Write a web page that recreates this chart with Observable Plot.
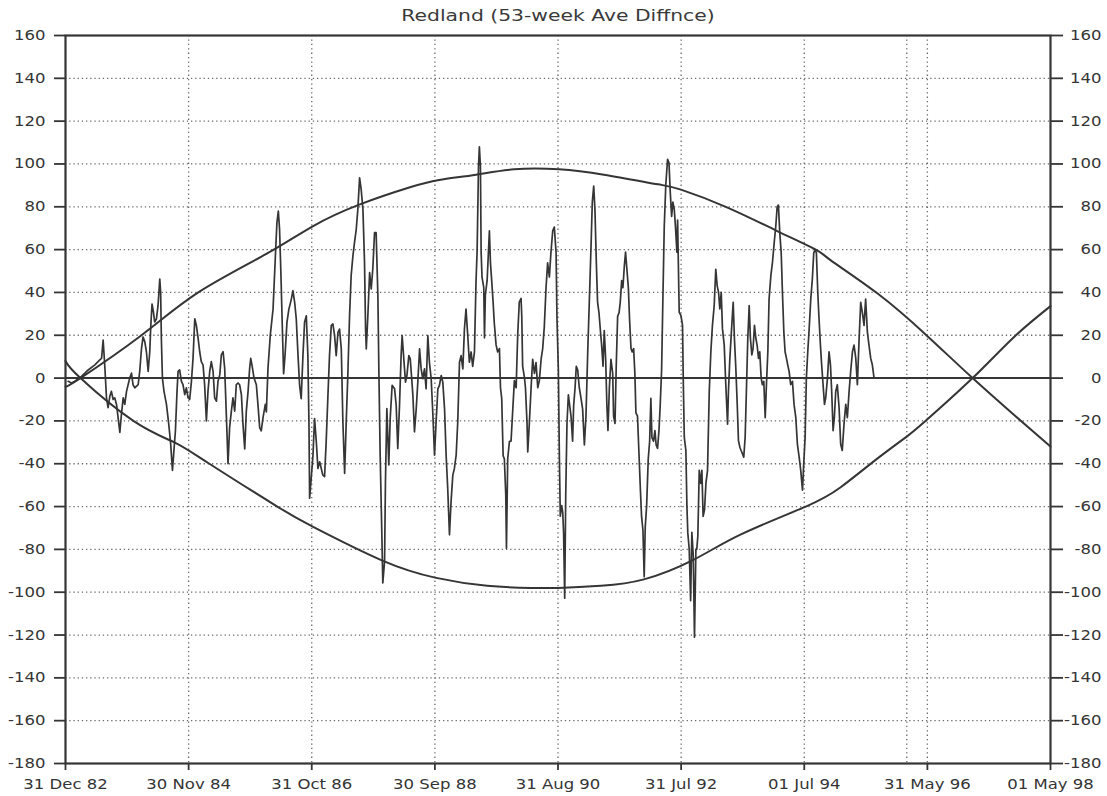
<!DOCTYPE html>
<html>
<head>
<meta charset="utf-8">
<script src="https://cdn.jsdelivr.net/npm/d3@7"></script>
<script src="https://cdn.jsdelivr.net/npm/@observablehq/plot@0.6"></script>
<style>
  body { margin: 0; background: #fff; }
  #title { position: relative; height: 26px; font-family: "DejaVu Sans", sans-serif; font-size: 16px; color: #3a3a3a; }
  #title span { position: absolute; left: 557.5px; top: 6px; white-space: nowrap; transform: translateX(-50%) scaleX(1.27); }
  #chart svg { display: block; }
</style>
</head>
<body>
<div id="title"><span>Redland (53-week Ave Diffnce)</span></div>
<div id="chart"></div>
<script>
// Weekly 53-week average difference: [days after 31 Dec 82, value]
const diffSeries = [
  [15,-1.5],[34,-2.3],[53,-1.5],[91,0.8],[129,3.8],[167,6.2],[195,8.5],[205,9.2],[214,17.7],[223,6.2],
  [233,-9.2],[242,-13.8],[252,-8.5],[261,-6.2],[271,-10],[280,-9.2],[290,-12.3],[299,-18.5],[309,-25.4],[318,-16.9],
  [328,-9.2],[337,-12.3],[347,-6.2],[356,-3.1],[365,0],[375,2.3],[384,-3.1],[394,-4.6],[413,-3.1],[422,3.1],
  [432,13.8],[441,19.2],[451,16.9],[460,12.3],[470,3.1],[479,12.3],[485,24.6],[492,34.6],[500,30.8],[507,26.2],
  [517,27.7],[526,33.8],[536,46.2],[541,40],[545,18.5],[551,0],[560,-6.2],[574,-12.3],[587,-21.5],[598,-30.8],
  [608,-43.1],[615,-35.4],[625,-24.6],[634,-6.2],[640,3.1],[649,3.8],[659,-1.5],[668,-3.1],[678,-7.7],[687,-4.6],
  [697,-9.2],[706,-10],[716,-1.5],[725,9.2],[735,27.7],[744,24.6],[754,18.5],[763,12.3],[772,7.7],[782,6.2],
  [791,-3.1],[801,-20],[810,-6.2],[820,3.1],[829,7.7],[839,3.1],[848,-9.2],[858,-10.8],[867,-1.5],[877,1.5],
  [886,10.8],[896,12.3],[905,4.6],[915,-18.5],[924,-40],[933,-23.1],[943,-15.4],[952,-9.2],[962,-15.4],[971,-3.1],
  [981,-2.3],[990,-3.1],[1000,-7.7],[1009,-21.5],[1019,-33.1],[1028,-15.4],[1038,-6.2],[1047,4.6],[1053,9.2],[1060,6.2],
  [1072,0],[1085,-3.1],[1094,-12.3],[1104,-23.1],[1113,-24.6],[1123,-18.5],[1136,-12.3],
  [1142,-15.8],[1151,4.3],[1164,19.8],[1180,32.2],[1195,60.2],[1202,72.6],[1210,78],[1217,69.5],[1225,47.8],[1232,26],
  [1240,2],[1248,10.5],[1259,26],[1270,32.2],[1284,36.9],[1293,40.8],[1303,35.3],[1312,27.6],[1322,10.5],[1331,-3.4],
  [1340,-9.6],[1350,10.5],[1359,26],[1369,29.1],[1378,10.5],[1384,-20.5],[1388,-56.1],[1397,-46.8],[1407,-36],[1416,-18.9],
  [1426,-29.8],[1435,-42.2],[1445,-39.1],[1463,-45.3],[1473,-46],[1482,-29.8],[1492,-8.1],[1501,10.5],[1511,24.5],[1520,25.3],
  [1530,19.8],[1539,10.5],[1549,21.4],[1558,22.9],[1568,13.6],[1577,-20.5],[1587,-44.5],[1596,-20.5],[1605,1.2],[1615,29.1],
  [1624,47.8],[1634,57.1],[1643,63.3],[1653,69.5],[1662,78.8],[1672,93.5],[1681,88.1],[1691,78.8],[1700,54],[1706,22.9],
  [1710,13.6],[1719,29.1],[1729,49.3],[1738,41.6],[1747,50.9],[1757,67.9],[1766,67.9],[1776,38.4],[1782,1.2],[1789,-36],
  [1797,-67],[1804,-95.7],[1814,-85.6],[1819,-48.4],[1827,-14.3],[1838,-40.6],[1846,-18.9],[1857,-3.4],[1871,-5],[1880,-12.7],
  [1889,-32.9],[1899,-12.7],[1908,10.5],[1914,19.8],[1922,10.5],[1933,-1.9],[1941,1.2],[1952,10.5],[1960,9],[1967,1.2],
  [1975,-8.1],[1984,-25.1],[1994,-14.3],[2003,-1.9],[2013,13.6],[2022,4.3],[2031,-0.3],[2041,4.3],[2050,-5],[2060,19.8],
  [2069,7.4],[2079,-0.3],[2088,-15.8],[2098,-36],[2107,-20.5],[2117,-5],[2126,-3.4],[2136,1.2],[2145,-1.9],[2155,-14.3],
  [2164,-36],[2173,-51.5],[2183,-73.2],[2192,-57.7],[2202,-45.3],[2211,-42.2],[2221,-36],[2230,-20.5],[2240,7.4],[2249,10.5],
  [2259,4.3],[2268,22.9],[2277,32.2],[2287,19.8],[2296,7.4],
  [2306,12.2],[2315,5.5],[2325,12.2],[2334,45.5],[2340,58.8],[2348,98.8],[2353,108],[2359,98.8],[2363,58.8],[2368,47.2],
  [2378,42.2],[2382,18.8],[2387,38.8],[2397,45.5],[2410,68.8],[2416,53.8],[2423,45.5],[2431,35.5],[2438,25.5],[2448,15.5],
  [2457,12.2],[2467,13.8],[2473,-4.5],[2480,-9.5],[2488,-36.2],[2495,-37.8],[2503,-54.5],[2507,-79.5],[2514,-37.8],[2524,-29.5],
  [2533,-29.5],[2543,-14.5],[2552,-1.2],[2562,-4.5],[2571,20.5],[2580,35.5],[2590,37.2],[2594,28.8],[2599,5.5],[2609,0.5],
  [2615,-4.5],[2624,-21.2],[2628,-34.5],[2637,-21.2],[2647,-4.5],[2656,8.8],[2666,2.2],[2675,7.2],[2685,-4.5],[2694,-1.2],
  [2704,8.8],[2713,13.8],[2722,23.8],[2732,42.2],[2741,53.8],[2751,47.2],[2760,58.8],[2770,68.8],[2779,70.5],[2789,58.8],
  [2794,28.8],[2802,3.8],[2808,-37.8],[2813,-64.5],[2821,-59.5],[2827,-62.8],[2832,-72.8],[2838,-102.8],[2844,-54.5],[2851,-21.2],
  [2859,-7.8],[2864,-11.2],[2874,-17.8],[2883,-29.5],[2889,-12.8],[2897,-4.5],[2904,5.5],[2912,3.8],[2921,-4.5],[2931,-9.5],
  [2940,-14.5],[2950,-31.2],[2959,-17.8],[2969,12.2],[2978,35.5],[2988,62.2],[2995,82.2],[3003,89.7],[3010,78.8],[3018,53.8],
  [3025,35.5],[3033,30.5],[3041,22.2],[3048,15.5],[3056,5.5],[3063,22.2],[3071,8.8],[3078,-12.8],[3084,-24.5],[3092,-4.5],
  [3101,8.8],[3111,2.2],[3116,-17.8],[3124,-21.2],[3131,5.5],[3139,28.8],[3147,30.5],[3154,35.5],[3162,45.5],[3169,42.2],
  [3177,52.2],[3184,58.8],[3192,50.5],[3200,42.2],[3207,27.2],[3215,13.8],[3222,12.2],[3230,13.8],[3237,2.2],[3243,-16.2],
  [3252,-17.8],[3260,-34.5],[3268,-51.2],[3275,-64.5],[3283,-71.2],[3290,-92.8],[3296,-69.5],[3304,-59.5],[3313,-37.8],[3321,-29.5],
  [3328,-9.5],[3334,-27.8],[3343,-29.5],[3351,-24.5],[3358,-31.2],[3366,-32.8],[3374,-24.5],[3381,-12.8],[3389,3.8],[3396,35.5],
  [3404,70.5],[3413,90.5],[3423,102.2],[3431,100.5],[3438,87.2],[3446,75.5],[3453,82.2],[3461,78.8],[3468,70.5],[3476,58.8],
  [3480,73.8],[3489,30.8],[3499,29.2],[3508,24.6],[3512,0],[3518,-27.7],[3527,-33.8],[3533,-60],[3538,-72.3],[3546,-80],
  [3554,-104],[3561,-72],[3569,-83],[3576,-121],[3584,-80],[3589,-80],[3595,-73.8],[3603,-43.1],[3612,-49.2],[3618,-43.1],
  [3625,-64.6],[3633,-61.5],[3641,-49.2],[3650,-43.1],[3660,-6.2],[3669,12.3],[3678,24.6],[3688,33.8],[3697,50.8],[3705,43.1],
  [3713,40],[3720,32.3],[3728,40],[3735,23.1],[3745,15.4],[3754,-3.1],[3764,-21.5],[3769,-6.2],[3777,9.2],[3788,24.6],
  [3796,35.4],[3803,18.5],[3811,4.6],[3819,-12.3],[3826,-29.2],[3834,-32.3],[3841,-33.8],[3849,-35.4],[3856,-36.9],[3864,-27.7],
  [3872,-3.1],[3879,18.5],[3887,33.8],[3894,18.5],[3902,10.8],[3909,13.8],[3917,24.6],[3925,18.5],[3932,15.4],[3940,9.2],
  [3947,12.3],[3955,0],[3962,-3.1],[3970,-1.5],[3978,-18.5],[3985,-3.1],[3993,12.3],[4000,36.9],[4010,47.7],[4019,53.8],
  [4029,63.1],[4038,70.8],[4046,80],[4053,80.8],[4061,67.7],[4069,58.5],[4076,40],[4084,21.5],[4091,12.3],[4099,9.2],
  [4106,6.2],[4114,3.1],[4123,-3.1],[4133,-1.5],[4142,-12.3],[4152,-18.5],[4161,-30.8],[4171,-36.9],[4180,-43.1],[4190,-52.3],
  [4197,-40],[4205,-27.7],[4212,0],[4220,12.3],[4228,23.1],[4237,36.9],[4246,46.2],[4254,58.5],[4262,60],[4269,58.5],
  [4277,40],[4284,27.7],[4292,15.4],[4299,6.2],[4307,-3.1],[4315,-12.3],[4322,-9.2],[4332,0],[4341,12.3],[4349,6.2],
  [4356,-6.2],[4364,-24.6],[4371,-18.5],[4379,-6.2],[4388,-3.1],[4398,-13.8],[4407,-30.8],[4416,-33.8],[4426,-21.5],[4436,-12.3],
  [4445,-18.5],[4455,-6.2],[4464,3.1],[4474,12.3],[4483,15.4],[4493,9.2],[4502,-3.1],[4512,18.5],[4521,35.4],[4530,30.8],
  [4540,24.6],[4549,36.9],[4559,21.5],[4568,15.4],[4578,9.2],[4587,6.2],[4597,0]
];

// Cycle envelope curves: [days after 31 Dec 82, value]
const upperEnvelope = [
  [0,-4],[85,0],[432,20],[755,40],[1142,58],[1408,71],[1670,81],[1954,89],[2124,92.5],[2334,95],
  [2550,97.5],[2806,97.5],[3061,95],[3368,90.5],[3499,88],[3754,80],[4038,69],[4265,60],[4351,55],[4617,39.5],
  [4890,20.4],[5157,0],[5390,-17],[5600,-32]
];
const lowerEnvelope = [
  [0,8],[85,0],[386,-20],[619,-30],[818,-40],[1204,-60],[1408,-69.5],[1795,-85],[2107,-93.3],[2397,-97],
  [2647,-98],[2800,-98],[3044,-97],[3288,-94],[3567,-85],[3840,-73],[4209,-60],[4407,-51],[4617,-37.5],[4788,-27],
  [4890,-20],[5157,0],[5390,19],[5600,33.6]
];

// Axis tick labels and extra reference line
const xTickLabels = ["31 Dec 82","30 Nov 84","31 Oct 86","30 Sep 88","31 Aug 90","31 Jul 92","01 Jul 94","31 May 96","01 May 98"];
const markerDates = ["1996-02-04"];
const yTicks = d3.range(-180, 161, 20);

const parseTick = d3.utcParse("%d %b %y");
const origin = parseTick(xTickLabels[0]);
const dayToDate = (d) => new Date(+origin + d * 864e5);
const toRows = (arr) => arr.map(([d, v]) => ({date: dayToDate(d), value: v}));

const series = toRows(diffSeries);
const upper = toRows(upperEnvelope);
const lower = toRows(lowerEnvelope);

const xTicks = xTickLabels.map(parseTick);
const xDomain = [xTicks[0], xTicks[xTicks.length - 1]];
const xGrid = xTicks.slice(1, -1).concat(markerDates.map(d3.utcParse("%Y-%m-%d")));
const yGrid = yTicks.filter((v) => v > -180 && v < 160);
const labelOf = new Map(xTicks.map((t, i) => [+t, xTickLabels[i]]));

const ink = "#353535";
const gridInk = "#6a6a6a";

const chart = Plot.plot({
  width: 1107,
  height: 770,
  marginTop: 9,
  marginBottom: 33,
  marginLeft: 65,
  marginRight: 57,
  style: {fontFamily: "'DejaVu Sans', sans-serif", fontSize: "14px", color: ink, background: "#fff"},
  x: {type: "utc", domain: xDomain, axis: null},
  y: {domain: [-180, 160], axis: null},
  marks: [
    Plot.ruleY(yGrid, {stroke: gridInk, strokeWidth: 1.3, strokeDasharray: "1.3,2.9"}),
    Plot.ruleX(xGrid, {stroke: gridInk, strokeWidth: 1.3, strokeDasharray: "1.3,3.1"}),
    Plot.ruleY([0], {stroke: ink, strokeWidth: 2}),
    Plot.line(upper, {x: "date", y: "value", curve: "natural", stroke: ink, strokeWidth: 2}),
    Plot.line(lower, {x: "date", y: "value", curve: "natural", stroke: ink, strokeWidth: 2}),
    Plot.line(series, {x: "date", y: "value", stroke: ink, strokeWidth: 1.7, strokeLinejoin: "round"}),
    Plot.frame({stroke: ink, strokeWidth: 2.2}),
    Plot.axisY({anchor: "left", label: null, ticks: yTicks, tickSize: 11, tickPadding: 9, strokeWidth: 1.8, tickFormat: (d) => String(d), fontSize: 14}),
    Plot.axisY({anchor: "right", label: null, ticks: yTicks, tickSize: 12, tickPadding: 39, textAnchor: "end", strokeWidth: 1.8, tickFormat: (d) => String(d), fontSize: 14}),
    Plot.axisX({anchor: "bottom", label: null, ticks: xTicks, tickSize: 7, tickPadding: 9, strokeWidth: 1.8, tickFormat: (d) => labelOf.get(+d), fontSize: 14})
  ]
});

// Widen the lettering horizontally about each label's anchor point
chart.querySelectorAll("text").forEach((t) => {
  const tr = t.getAttribute("transform");
  if (tr) t.setAttribute("transform", `${tr} scale(1.18,1)`);
});

document.getElementById("chart").append(chart);
</script>
</body>
</html>
